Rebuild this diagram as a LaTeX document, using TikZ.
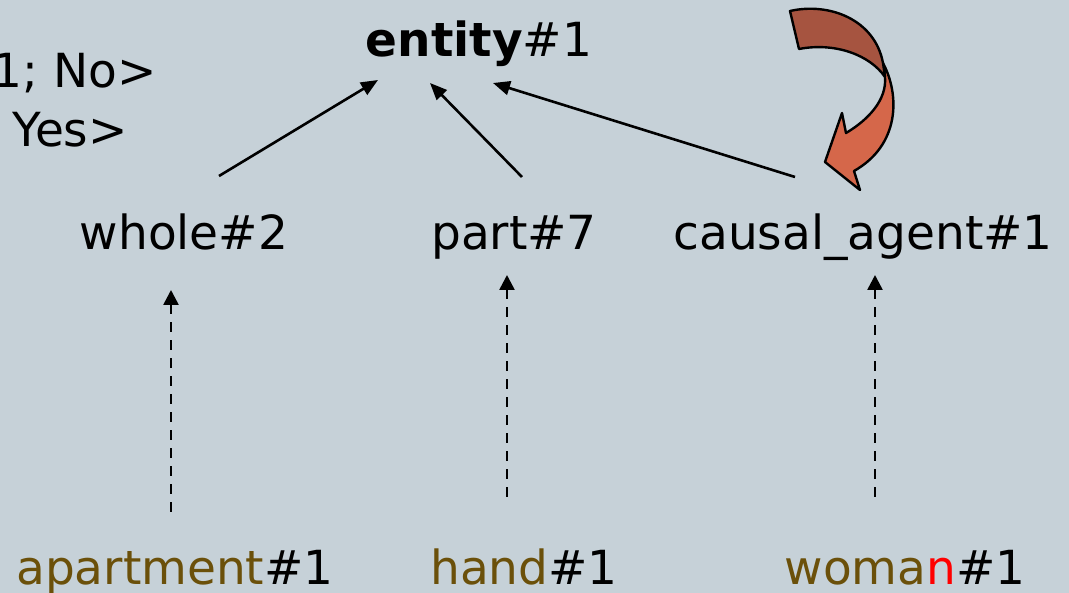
\documentclass[tikz,border=0pt]{standalone}
\usepackage{fontspec}
\setmainfont{DejaVu Sans}
\usetikzlibrary{arrows.meta, calc}
\definecolor{fondoGris}{RGB}{198, 209, 216}
\definecolor{textoOliva}{RGB}{107, 80, 10}
\definecolor{flechaOscura}{RGB}{166, 84, 64}
\definecolor{flechaClara}{RGB}{213, 103, 74}

\begin{document}
\begin{tikzpicture}[x=1pt, y=-1pt,
        palabra/.style={anchor=base, inner sep=0pt, font=\fontsize{47}{56}\selectfont},
        hiper/.style={line width=2.6pt, -{Triangle[length=17pt, width=14pt]}},
        instancia/.style={line width=2.6pt, dash pattern=on 10pt off 8pt, -{Triangle[length=15pt, width=15pt]}}]
    \useasboundingbox[fill=fondoGris] (0,0) rectangle (1069,593);

    % synsets
    \node[palabra] (entity) at (479,57) {\textbf{entity}\#1};
    \node[palabra] (whole) at (184,250) {whole\#2};
    \node[palabra] (part) at (514,250) {part\#7};
    \node[palabra] (causal) at (863,250) {causal\_agent\#1};

    % palabras
    \node[palabra] (apartment) at (175,584) {\color{textoOliva}apartment\color{black}\#1};
    \node[palabra] (hand) at (524,584) {\color{textoOliva}hand\color{black}\#1};
    \node[palabra] (woman) at (905,584) {\color{textoOliva}woma\color{red}n\color{black}\#1};

    \node[palabra, anchor=base east] (no) at (157,88) {1; No>};
    \node[palabra, anchor=base east] (yes) at (128,147) {Yes>};

    % hiperonimia
    \draw[hiper] ($(whole.base)+(35,-74)$) -- ($(entity.base)+(-101,23)$);
    \draw[hiper] ($(part.base)+(8,-73)$) -- ($(entity.base)+(-49,26)$);
    \draw[hiper] ($(causal.base)+(-68,-73)$) -- ($(entity.base)+(14,26)$);

    \draw[instancia] ($(apartment.base)+(-4,-72)$) -- ($(whole.base)+(-13,40)$);
    \draw[instancia] ($(hand.base)+(-17,-87)$) -- ($(part.base)+(-7,25)$);
    \draw[instancia] ($(woman.base)+(-30,-87)$) -- ($(causal.base)+(12,25)$);

    % flecha curva
    \draw[line width=2.4pt, line join=round, fill=flechaClara]
        (883,63) .. controls (900,95) and (900,145) .. (854,171)
        -- (860,190) -- (825,162) -- (842,113) -- (846,133)
        .. controls (868,120) and (887,100) .. (885,77) -- cycle;
    \draw[line width=2.4pt, line join=round, fill=flechaOscura]
        (790,11) .. controls (830,2) and (875,20) .. (883,63)
        -- (885,77) .. controls (870,55) and (835,42) .. (799,49) -- cycle;
\end{tikzpicture}
\end{document}
